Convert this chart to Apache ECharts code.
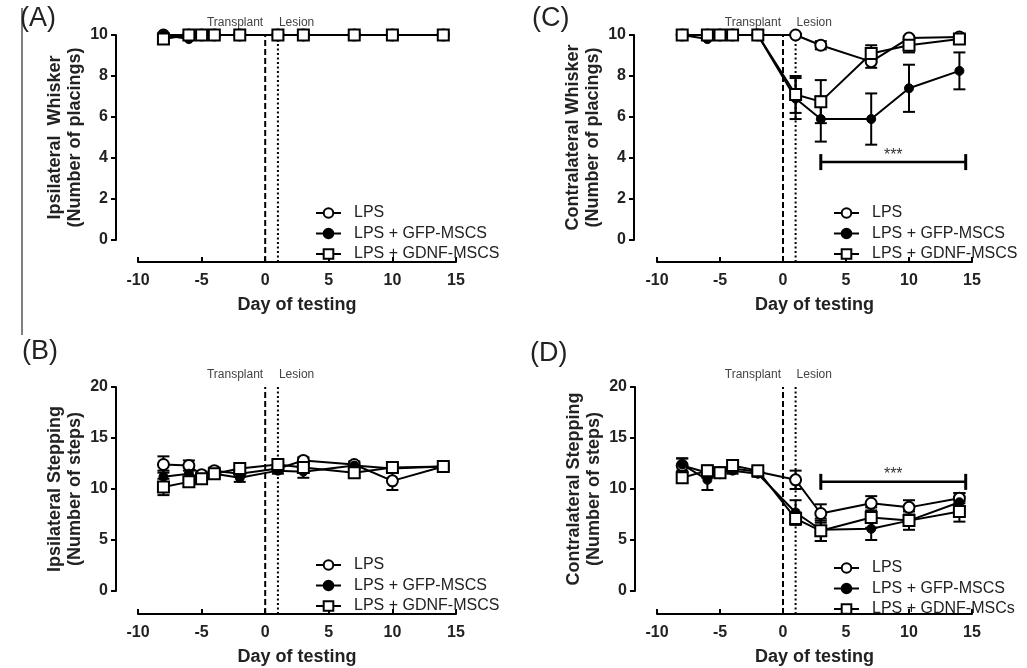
<!DOCTYPE html>
<html>
<head>
<meta charset="utf-8">
<script src="https://cdn.jsdelivr.net/npm/echarts@6/dist/echarts.min.js"></script>
<style>
html,body{margin:0;padding:0;background:#fff}
#main{width:1027px;height:668px}
</style>
</head>
<body>
<div id="main"></div>
<script>
var FONT = '"Liberation Sans", Arial, sans-serif';

// days of testing
var days = [-8, -6, -5, -4, -2, 1, 3, 7, 10, 14];
var xRange = [-10, 15];
var xStep = 5;

// (A) ipsilateral whisker
var aLps = [10, 10, 10, 10, 10, 10, 10, 10, 10, 10];
var aLpsErr = [0, 0, 0, 0, 0, 0, 0, 0, 0, 0];
var aGfp = [10, 9.8, 10, 10, 10, 10, 10, 10, 10, 10];
var aGfpErr = [0, 0, 0, 0, 0, 0, 0, 0, 0, 0];
var aGdnf = [9.8, 10, 10, 10, 10, 10, 10, 10, 10, 10];
var aGdnfErr = [0, 0, 0, 0, 0, 0, 0, 0, 0, 0];

// (C) contralateral whisker
var cLps = [10, 10, 10, 10, 10, 10, 9.5, 8.7, 9.85, 9.9];
var cLpsErr = [0, 0, 0, 0, 0, 0, 0.2, 0.3, 0.1, 0.1];
var cGfp = [10, 9.8, 10, 10, 10, 6.9, 5.9, 5.9, 7.4, 8.25];
var cGfpErr = [0, 0, 0, 0, 0, 1.0, 1.1, 1.25, 1.15, 0.9];
var cGdnf = [10, 10, 10, 10, 10, 7.1, 6.75, 9.1, 9.5, 9.8];
var cGdnfErr = [0, 0, 0, 0, 0, 0.9, 1.05, 0.4, 0.35, 0.1];

// (B) ipsilateral stepping
var bLps = [12.4, 12.3, 11.4, 11.8, 11.5, 12.0, 12.8, 12.4, 10.8, 12.2];
var bLpsErr = [0.8, 0.5, 0.3, 0.3, 0.3, 0.3, 0.3, 0.3, 0.9, 0.3];
var bGfp = [11.2, 11.5, 11.1, 11.5, 11.1, 11.8, 11.7, 12.3, 12.0, 12.2];
var bGfpErr = [0.6, 0.6, 0.4, 0.3, 0.4, 0.3, 0.6, 0.3, 0.3, 0.3];
var bGdnf = [10.2, 10.7, 11.0, 11.5, 12.0, 12.4, 12.1, 11.6, 12.1, 12.2];
var bGdnfErr = [0.8, 0.5, 0.4, 0.3, 0.3, 0.4, 0.4, 0.4, 0.3, 0.3];

// (D) contralateral stepping
var dLps = [12.3, 11.6, 11.6, 12.0, 11.7, 10.9, 7.6, 8.6, 8.2, 9.1];
var dLpsErr = [0.7, 0.5, 0.4, 0.3, 0.3, 0.9, 0.9, 0.7, 0.7, 0.5];
var dGfp = [12.4, 10.9, 11.6, 11.8, 11.5, 7.7, 6.0, 6.1, 6.9, 8.7];
var dGfpErr = [0.6, 1.0, 0.5, 0.3, 0.3, 1.2, 1.1, 1.1, 0.5, 0.9];
var dGdnf = [11.1, 11.8, 11.6, 12.3, 11.8, 7.1, 5.9, 7.2, 6.9, 7.8];
var dGdnfErr = [0.5, 0.5, 0.5, 0.3, 0.3, 0.6, 1.0, 1.0, 0.9, 1.0];

// transplant / lesion days
var eventDays = [0, 1];
var eventNames = ['Transplant', 'Lesion'];

// significance bars: [from, to, y]
var sigC = [3, 14.5, 3.8];
var sigD = [3, 14.5, 10.7];

var namesABC = ['LPS', 'LPS + GFP-MSCS', 'LPS + GDNF-MSCS'];
var namesD = ['LPS', 'LPS + GFP-MSCS', 'LPS + GDNF-MSCs'];

var panels = [
  {tag: '(A)', tagX: 20, tagY: 5, left: 138, width: 318, top: 35, height: 205, xOff: 22, yOff: 22,
   yMax: 10, yStep: 2, yName: 'Ipsilateral  Whisker\n(Number of placings)',
   vals: [aLps, aGfp, aGdnf], errs: [aLpsErr, aGfpErr, aGdnfErr], names: namesABC,
   legX: 315, legY: 205, sig: null},
  {tag: '(C)', tagX: 532, tagY: 5, left: 657, width: 315, top: 35, height: 205, xOff: 22, yOff: 23,
   yMax: 10, yStep: 2, yName: 'Contralateral Whisker\n(Number of placings)',
   vals: [cLps, cGfp, cGdnf], errs: [cLpsErr, cGfpErr, cGdnfErr], names: namesABC,
   legX: 833, legY: 205, sig: sigC},
  {tag: '(B)', tagX: 22, tagY: 338, left: 138, width: 318, top: 387, height: 204, xOff: 23, yOff: 22,
   yMax: 20, yStep: 5, yName: 'Ipsilateral Stepping\n(Number of steps)',
   vals: [bLps, bGfp, bGdnf], errs: [bLpsErr, bGfpErr, bGdnfErr], names: namesABC,
   legX: 315, legY: 557, sig: null},
  {tag: '(D)', tagX: 530, tagY: 340, left: 657, width: 315, top: 387, height: 204, xOff: 23, yOff: 22,
   yMax: 20, yStep: 5, yName: 'Contralateral Stepping\n(Number of steps)',
   vals: [dLps, dGfp, dGdnf], errs: [dLpsErr, dGfpErr, dGdnfErr], names: namesD,
   legX: 833, legY: 560, sig: sigD}
];

var markerStyles = [
  {symbol: 'circle', symbolSize: 11, itemStyle: {color: '#fff', borderColor: '#000', borderWidth: 2}},
  {symbol: 'circle', symbolSize: 9, itemStyle: {color: '#000', borderColor: '#000', borderWidth: 1}},
  {symbol: 'rect', symbolSize: 11, itemStyle: {color: '#fff', borderColor: '#000', borderWidth: 2}}
];

function errorBars(params, api) {
  var e = api.value(2);
  if (!e) return null;
  var x = api.value(0), y = api.value(1);
  var top = api.coord([x, y + e]);
  var bot = api.coord([x, y - e]);
  var st = {stroke: '#000', lineWidth: 2};
  return {
    type: 'group',
    children: [
      {type: 'line', shape: {x1: top[0], y1: top[1], x2: bot[0], y2: bot[1]}, style: st},
      {type: 'line', shape: {x1: top[0] - 6, y1: top[1], x2: top[0] + 6, y2: top[1]}, style: st},
      {type: 'line', shape: {x1: bot[0] - 6, y1: bot[1], x2: bot[0] + 6, y2: bot[1]}, style: st}
    ]
  };
}

function sigBar(params, api) {
  var p1 = api.coord([api.value(0), api.value(2)]);
  var p2 = api.coord([api.value(1), api.value(2)]);
  var st = {stroke: '#000', lineWidth: 2.5};
  var cap = {stroke: '#000', lineWidth: 3};
  return {
    type: 'group',
    children: [
      {type: 'line', shape: {x1: p1[0], y1: p1[1], x2: p2[0], y2: p2[1]}, style: st},
      {type: 'line', shape: {x1: p1[0], y1: p1[1] - 8, x2: p1[0], y2: p1[1] + 8}, style: cap},
      {type: 'line', shape: {x1: p2[0], y1: p2[1] - 8, x2: p2[0], y2: p2[1] + 8}, style: cap},
      {type: 'text', x: (p1[0] + p2[0]) / 2, y: p1[1] - 7,
       style: {text: '***', fill: '#333', font: '16px ' + FONT, align: 'center', verticalAlign: 'middle'}}
    ]
  };
}

var grids = [], xAxes = [], yAxes = [], series = [], legends = [], titles = [];

panels.forEach(function (p, i) {
  var gi = i * 2, go = i * 2 + 1;
  grids.push({left: p.left, width: p.width, top: p.top, height: p.height});
  grids.push({left: p.left, width: p.width, top: p.top, height: p.height + p.xOff});

  xAxes.push({gridIndex: gi, type: 'value', min: xRange[0], max: xRange[1], interval: xStep, show: false});
  xAxes.push({
    gridIndex: go, type: 'value', min: xRange[0], max: xRange[1], interval: xStep,
    name: 'Day of testing', nameLocation: 'middle', nameGap: 34,
    nameTextStyle: {fontFamily: FONT, fontSize: 18, fontWeight: 'bold', color: '#222'},
    axisLine: {onZero: false, lineStyle: {color: '#000', width: 2}},
    axisTick: {inside: true, length: 5, lineStyle: {color: '#000', width: 2}},
    axisLabel: {margin: 11, fontFamily: FONT, fontSize: 16, fontWeight: 'bold', color: '#222'},
    splitLine: {show: false}
  });

  yAxes.push({
    gridIndex: gi, type: 'value', min: 0, max: p.yMax, interval: p.yStep, offset: p.yOff,
    name: p.yName, nameLocation: 'middle', nameRotate: 90, nameGap: 31,
    nameTextStyle: {fontFamily: FONT, fontSize: 18, fontWeight: 'bold', color: '#222', lineHeight: 20},
    axisLine: {show: true, onZero: false, lineStyle: {color: '#000', width: 2}},
    axisTick: {show: true, length: 5, lineStyle: {color: '#000', width: 2}},
    axisLabel: {margin: 8, fontFamily: FONT, fontSize: 16, fontWeight: 'bold', color: '#222'},
    splitLine: {show: false}
  });
  yAxes.push({gridIndex: go, type: 'value', min: 0, max: 1, show: false});

  // event lines (transplant dashed, lesion dotted)
  eventDays.forEach(function (d, k) {
    series.push({
      type: 'line', xAxisIndex: go, yAxisIndex: go, silent: true, z: 2,
      symbol: 'circle', symbolSize: 0, showSymbol: true,
      itemStyle: {color: '#000'},
      lineStyle: {color: '#000', width: 2, type: k === 0 ? [6, 3] : [2, 2.5]},
      data: [[d, 0], {value: [d, 1], label: {
        show: true, formatter: eventNames[k], position: 'top', distance: 6,
        align: k === 0 ? 'right' : 'left', offset: [k === 0 ? -2 : 1, 0],
        fontFamily: FONT, fontSize: 12, color: '#444'
      }}]
    });
  });

  p.vals.forEach(function (vals, k) {
    var errData = days.map(function (d, j) { return [d, vals[j], p.errs[k][j]]; });
    series.push({
      type: 'custom', xAxisIndex: gi, yAxisIndex: gi, silent: true, z: 3,
      renderItem: errorBars, data: errData, clip: false
    });
  });

  p.vals.forEach(function (vals, k) {
    var m = markerStyles[k];
    series.push({
      name: p.names[k], type: 'line', xAxisIndex: gi, yAxisIndex: gi, z: 4 + k,
      symbol: m.symbol, symbolSize: m.symbolSize, showAllSymbol: true, clip: false,
      itemStyle: m.itemStyle, lineStyle: {color: '#000', width: 2},
      emphasis: {disabled: true},
      data: days.map(function (d, j) { return [d, vals[j]]; })
    });
  });

  if (p.sig) {
    series.push({
      type: 'custom', xAxisIndex: gi, yAxisIndex: gi, silent: true, z: 3,
      renderItem: sigBar, data: [p.sig], clip: false
    });
  }

  legends.push({
    data: p.names, orient: 'vertical', left: p.legX, top: p.legY, padding: 0,
    itemWidth: 25, itemHeight: 12, itemGap: 4.5, selectedMode: false,
    textStyle: {fontFamily: FONT, fontSize: 16, color: '#222', lineHeight: 16, padding: [0, 0, 0, 8]}
  });

  titles.push({text: p.tag, left: p.tagX, top: p.tagY, padding: 0,
    textStyle: {fontFamily: FONT, fontSize: 27, fontWeight: 'normal', color: '#222'}});
});

var chart = echarts.init(document.getElementById('main'));
chart.setOption({
  backgroundColor: '#fff',
  animation: false,
  title: titles,
  legend: legends,
  grid: grids,
  xAxis: xAxes,
  yAxis: yAxes,
  series: series,
  graphic: [{type: 'line', shape: {x1: 22, y1: 8, x2: 22, y2: 335}, style: {stroke: '#555', lineWidth: 1.5}}]
});
</script>
</body>
</html>
